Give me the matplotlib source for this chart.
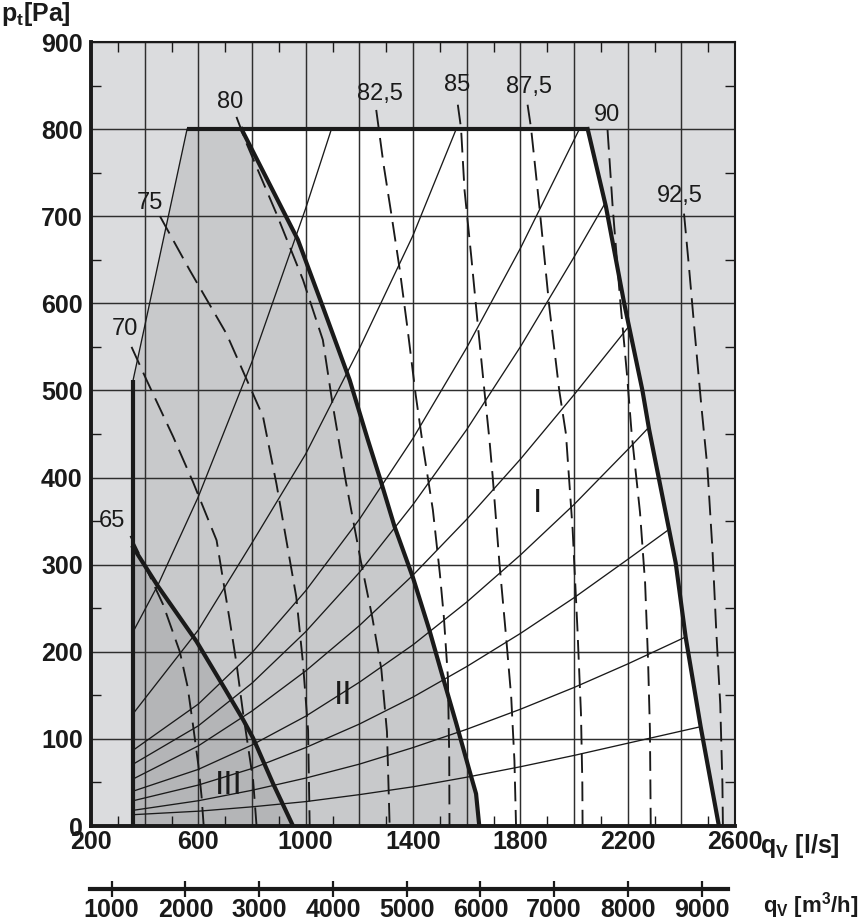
import matplotlib
matplotlib.use('Agg')
import matplotlib.pyplot as plt

plt.rcParams['font.family'] = ['Liberation Sans', 'DejaVu Sans']
plt.rcParams['mathtext.fontset'] = 'custom'
plt.rcParams['mathtext.rm'] = 'Liberation Sans:bold'
plt.rcParams['mathtext.bf'] = 'Liberation Sans:bold'

# ---------------- data (q in l/s, p in Pa) ----------------
left_q = [357, 357]
left_p = [0, 512]
slant_q = [357, 558]
slant_p = [512, 800]
top_q = [558, 2051]
top_p = [800, 800]
right_q = [2051, 2119, 2187, 2255, 2280, 2379, 2416, 2472, 2540]
right_p = [800, 711, 600, 500, 455, 302, 217, 114, 0]
zone2_q = [761, 971, 1064, 1164, 1232, 1275, 1331, 1400, 1461, 1511, 1561, 1610, 1635, 1647]
zone2_p = [800, 673, 596, 512, 443, 401, 344, 285, 225, 171, 118, 64, 37, 0]
zone3_q = [357, 450, 593, 700, 767, 804, 878, 953]
zone3_p = [320, 275, 212, 157, 122, 101, 49, 0]

# system curves (thin solid)
sys_curves = [
    ([357, 450, 600, 800, 1000, 1096], [223, 277, 378, 533, 709, 800]),
    ([357, 600, 800, 1000, 1200, 1400, 1561], [129, 225, 325, 427, 548, 678, 800]),
    ([357, 600, 800, 1000, 1200, 1400, 1600, 1800, 2020], [87, 140, 199, 270, 352, 445, 549, 663, 800]),
    ([357, 600, 800, 1000, 1200, 1400, 1600, 1800, 2000, 2116], [71, 115, 164, 223, 291, 369, 455, 550, 653, 715]),
    ([357, 600, 800, 1000, 1200, 1400, 1600, 1800, 2000, 2203], [54, 92, 132, 178, 230, 288, 352, 421, 495, 573]),
    ([357, 600, 800, 1000, 1200, 1400, 1600, 1800, 2000, 2200, 2280], [40, 65, 93, 126, 165, 208, 257, 311, 369, 432, 458]),
    ([357, 600, 800, 1000, 1200, 1400, 1600, 1800, 2000, 2200, 2352], [29, 47, 66, 90, 117, 148, 183, 221, 262, 306, 340]),
    ([357, 600, 800, 1000, 1200, 1400, 1600, 1800, 2000, 2200, 2416], [18, 29, 41, 55, 71, 90, 111, 134, 159, 186, 217]),
    ([357, 600, 800, 1000, 1200, 1400, 1600, 1800, 2000, 2200, 2472], [13, 17, 22, 28, 36, 45, 56, 68, 81, 95, 114]),
]

# efficiency iso-lines (dashed)
eff_labels = ['65', '70', '75', '80', '82,5', '85', '87,5', '90', '92,5']
eff_label_q = [278, 327, 420, 717, 1275, 1566, 1834, 2122, 2395]
eff_label_p = [350, 571, 715, 831, 840, 851, 848, 816, 723]
eff_q = [
    [347, 410, 469, 531, 560, 581, 600, 612, 620],
    [351, 407, 506, 580, 668, 717, 742, 767, 804, 817],
    [457, 568, 705, 841, 891, 928, 965, 990, 1009, 1015],
    [742, 779, 891, 990, 1064, 1100, 1150, 1205, 1248, 1282, 1303, 1313],
    [1263, 1290, 1319, 1350, 1380, 1410, 1440, 1474, 1500, 1515, 1530, 1535, 1536],
    [1567, 1579, 1592, 1617, 1641, 1666, 1685, 1697, 1722, 1747, 1766, 1778, 1784],
    [1827, 1840, 1871, 1908, 1945, 1970, 1995, 2013, 2026, 2031, 2032],
    [2125, 2144, 2172, 2197, 2215, 2246, 2265, 2276, 2283, 2286],
    [2410, 2429, 2450, 2475, 2497, 2516, 2530, 2545, 2553, 2555],
]
eff_p = [
    [333, 293, 254, 200, 160, 114, 70, 34, 0],
    [550, 512, 447, 395, 328, 236, 187, 129, 53, 0],
    [700, 638, 565, 470, 393, 328, 263, 187, 110, 0],
    [814, 784, 703, 627, 558, 485, 395, 305, 240, 180, 108, 0],
    [822, 760, 703, 640, 570, 495, 430, 363, 290, 240, 171, 80, 0],
    [828, 801, 730, 654, 577, 500, 443, 401, 302, 217, 148, 75, 0],
    [828, 801, 711, 596, 500, 450, 340, 225, 129, 50, 0],
    [799, 711, 604, 520, 450, 360, 279, 190, 110, 0],
    [703, 640, 566, 481, 412, 317, 225, 140, 50, 0],
]

zone_names = ['I', 'II', 'III']
zone_label_q = [1865, 1139, 713]
zone_label_p = [370, 150, 47]

x_ticks = [200, 600, 1000, 1400, 1800, 2200, 2600]
y_ticks = [0, 100, 200, 300, 400, 500, 600, 700, 800, 900]
m3h_ticks = [1000, 2000, 3000, 4000, 5000, 6000, 7000, 8000, 9000]
m3h_range = [706, 9357]

# ---------------- figure ----------------
W, H = 866, 924
fig = plt.figure(figsize=(W / 100, H / 100), dpi=100)
ax = fig.add_axes([91 / W, 98 / H, 644 / W, 784 / H])
ax.set_xlim(200, 2600)
ax.set_ylim(0, 900)

INK = '#1a1a1a'
LIGHT = '#dbdcde'
MID = '#c8c9cb'
DARK = '#b4b5b7'
ax.set_facecolor(LIGHT)

# zone II (mid grey): whole left part of operating area
z2_poly_q = left_q + slant_q[1:] + [zone2_q[0]] + zone2_q[1:] + [left_q[0]]
z2_poly_p = left_p + slant_p[1:] + [800] + zone2_p[1:] + [0]
ax.fill(z2_poly_q, z2_poly_p, color=MID, zorder=0.2, lw=0)
# zone I (white)
z1_q = zone2_q + right_q[::-1]
z1_p = zone2_p + right_p[::-1]
ax.fill(z1_q, z1_p, color='white', zorder=0.2, lw=0)
# zone III (dark grey)
z3_q = zone3_q + [357]
z3_p = zone3_p + [0]
ax.fill(z3_q, z3_p, color=DARK, zorder=0.2, lw=0)

# grid
ax.set_axisbelow(True)
ax.set_xticks(list(range(200, 2601, 200)))
ax.set_xticklabels([str(v) if v in x_ticks else '' for v in range(200, 2601, 200)])
ax.set_yticks(y_ticks)
ax.set_yticklabels([str(v) for v in y_ticks])
ax.set_xticks(list(range(300, 2600, 200)), minor=True)
ax.set_yticks(list(range(50, 900, 100)), minor=True)
ax.grid(which='major', color='#2e2e2e', lw=1.05)
ax.tick_params(which='major', length=0, labelsize=18, colors=INK)
ax.tick_params(axis='x', which='major', pad=3)
ax.tick_params(axis='y', which='major', pad=6)
ax.tick_params(which='minor', direction='in', length=7, width=1.0, color=INK,
               top=True, right=True, bottom=True, left=True)
for lab in ax.get_xticklabels() + ax.get_yticklabels():
    lab.set_fontweight('bold')
for side, lw in [('left', 2.8), ('bottom', 2.8), ('top', 1.5), ('right', 1.5)]:
    ax.spines[side].set_linewidth(lw)
    ax.spines[side].set_color(INK)
    ax.spines[side].set_zorder(6)

# system curves
for cq, cp in sys_curves:
    ax.plot(cq, cp, color=INK, lw=0.95, zorder=3, solid_capstyle='butt')

# efficiency lines
for q, p in zip(eff_q, eff_p):
    ax.plot(q, p, color=INK, lw=1.35, ls=(0, (10.5, 4.6)), zorder=3)
for t, q, p in zip(eff_labels, eff_label_q, eff_label_p):
    ax.text(q, p, t, fontsize=17, ha='center', va='center', color=INK, zorder=5)

# boundaries
ax.plot(slant_q, slant_p, color=INK, lw=0.95, zorder=4)
ax.plot(left_q, left_p, color=INK, lw=3.0, zorder=4, solid_capstyle='butt')
ax.plot(top_q, top_p, color=INK, lw=3.0, zorder=4, solid_capstyle='butt')
ax.plot(right_q, right_p, color=INK, lw=3.0, zorder=4)
ax.plot(zone2_q, zone2_p, color=INK, lw=3.0, zorder=4)
ax.plot(zone3_q, zone3_p, color=INK, lw=3.0, zorder=4)

for t, q, p in zip(zone_names, zone_label_q, zone_label_p):
    ax.text(q, p, t, fontsize=24, ha='center', va='center', color=INK, zorder=5)

# axis titles
fig.text(1 / W, 1 - 14 / H, r'p$_\mathregular{t}$[Pa]', fontsize=18, fontweight='bold',
         ha='left', va='center', color=INK)
fig.text(760 / W, 1 - 846 / H, r'q$_\mathregular{V}$ [l/s]', fontsize=18, fontweight='bold',
         ha='left', va='center', color=INK)
fig.text(763 / W, 1 - 906 / H, r'q$_\mathregular{V}$ [m$^\mathregular{3}$/h]', fontsize=16,
         fontweight='bold', ha='left', va='center', color=INK)

# secondary m3/h axis
ax2 = fig.add_axes([90 / W, (H - 889) / H, 638 / W, 0.0005])
ax2.set_xlim(*m3h_range)
ax2.set_ylim(0, 1)
ax2.patch.set_visible(False)
for side in ['left', 'right', 'top']:
    ax2.spines[side].set_visible(False)
ax2.spines['bottom'].set_linewidth(3.0)
ax2.spines['bottom'].set_color(INK)
ax2.set_yticks([])
ax2.set_xticks(m3h_ticks)
ax2.set_xticklabels([str(v) for v in m3h_ticks])
ax2.tick_params(axis='x', direction='inout', length=11, width=1.6, pad=1,
                labelsize=18, colors=INK)
for lab in ax2.get_xticklabels():
    lab.set_fontweight('bold')

fig.savefig('out.png', dpi=100)
